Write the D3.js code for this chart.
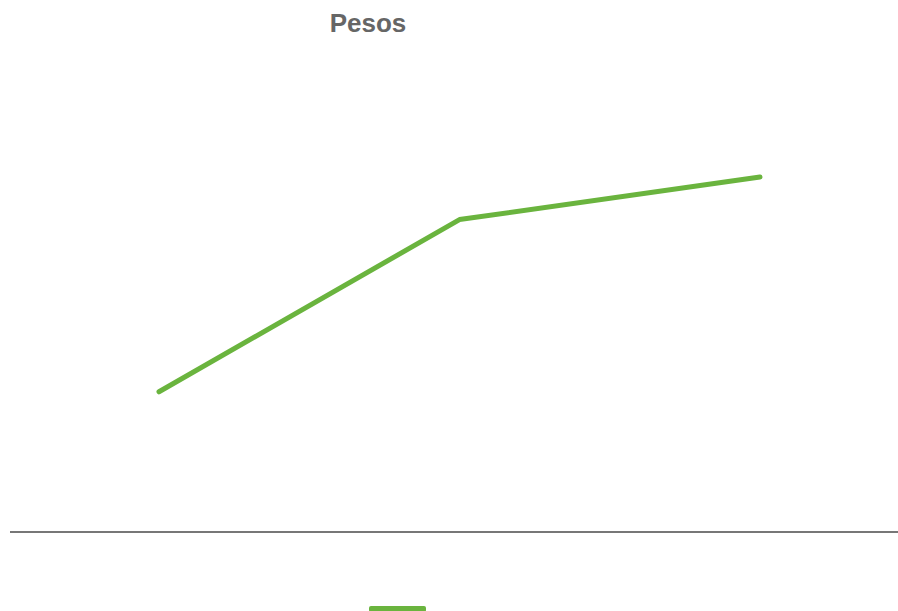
<!DOCTYPE html>
<html>
<head>
<meta charset="utf-8">
<script src="https://cdn.jsdelivr.net/npm/d3@7"></script>
<style>
  html, body { margin: 0; padding: 0; background: #fff; overflow: hidden; }
  svg { display: block; }
</style>
</head>
<body>
<svg id="chart" width="898" height="611"></svg>
<script>
const title = "Pesos";
const categories = ["1", "2", "3"];
const values = [39.5, 88, 100];

const svg = d3.select("#chart");
const W = 898;
const green = "#6ab43e";

const x = d3.scalePoint().domain(categories).range([159, 760]);
const y = d3.scaleLinear().domain([0, 120]).range([532, 106]);

svg.append("text")
  .attr("x", 368).attr("y", 32)
  .attr("text-anchor", "middle")
  .attr("font-family", "Liberation Sans, Arial, sans-serif")
  .attr("font-weight", "bold")
  .attr("font-size", 26)
  .attr("fill", "#666666")
  .text(title);

// baseline axis
svg.append("line")
  .attr("x1", 10).attr("x2", W)
  .attr("y1", y(0)).attr("y2", y(0))
  .attr("stroke", "#777777").attr("stroke-width", 2);

const line = d3.line()
  .x((d, i) => x(categories[i]))
  .y(d => y(d));

svg.append("path")
  .datum(values)
  .attr("d", line)
  .attr("fill", "none")
  .attr("stroke", green)
  .attr("stroke-width", 5)
  .attr("stroke-linecap", "round")
  .attr("stroke-linejoin", "round");

// legend swatch (label lies below the visible area)
svg.append("rect")
  .attr("x", 369).attr("y", 606)
  .attr("width", 57).attr("height", 6)
  .attr("rx", 2)
  .attr("fill", green);
</script>
</body>
</html>
